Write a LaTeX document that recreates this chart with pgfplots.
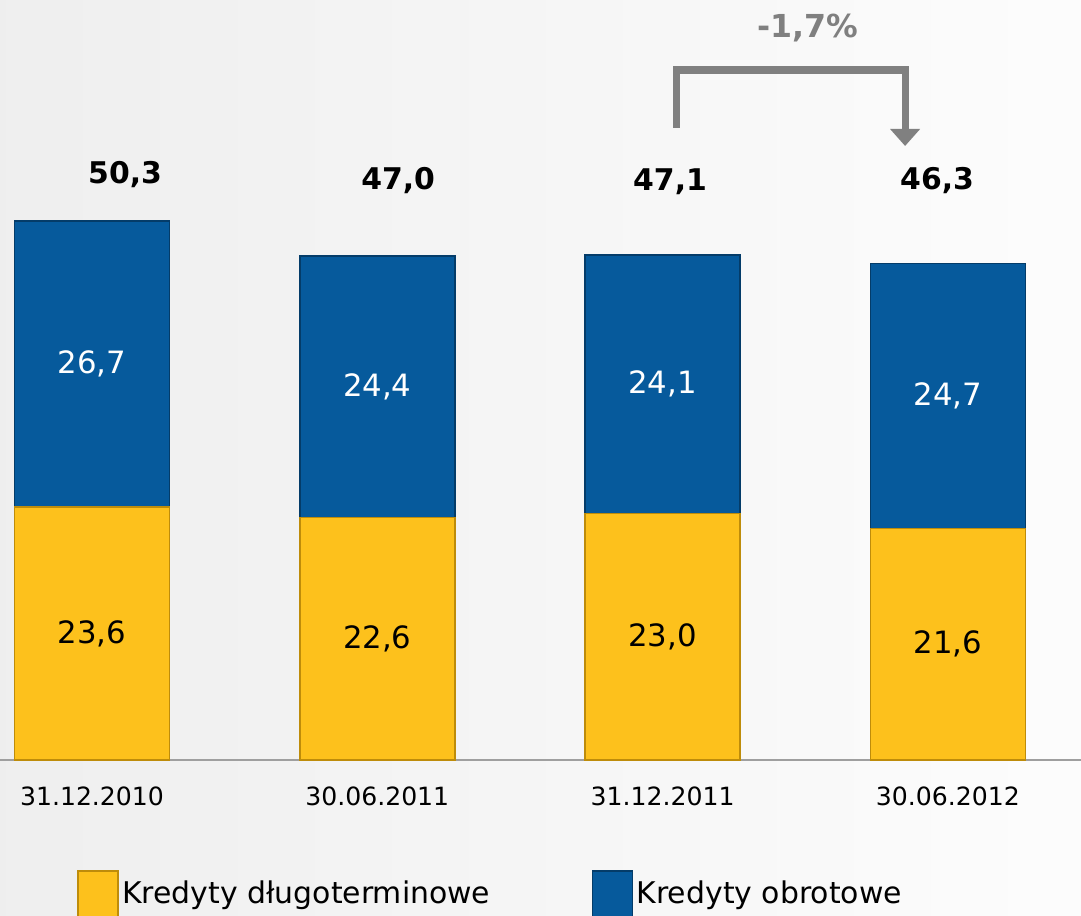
\documentclass[border=0pt]{standalone}
\usepackage{pgfplots}
\pgfplotsset{compat=1.18}
\usetikzlibrary{arrows.meta}
\usepackage{fontspec}
\setmainfont{DejaVu Sans}
\definecolor{yel}{RGB}{253,193,28}
\definecolor{yeledge}{RGB}{190,140,10}
\definecolor{blu}{RGB}{6,90,156}
\definecolor{bluedge}{RGB}{4,60,105}
\definecolor{arr}{RGB}{128,128,128}
\tikzset{
  inval/.style={font=\fontsize{17.5}{20}\selectfont},
  totval/.style={font=\bfseries\fontsize{17}{20}\selectfont},
}

\begin{document}
\begin{tikzpicture}
\path[use as bounding box] (0,0) rectangle (21.62,18.3);
\clip (0,0) rectangle (21.62,18.3);
\shade[left color=gray!13, right color=gray!2] (0,0) rectangle (21.62,18.3);
\begin{axis}[
    at={(0,3.1cm)}, anchor=south west,
    scale only axis, width=21.62cm, height=15.2cm,
    xmin=-0.3225, xmax=3.4665, ymin=0, ymax=70.9,
    enlargelimits=false, clip=false,
    ybar stacked, bar width=3.1cm,
    axis x line=bottom, axis y line=none,
    x axis line style={-, draw=gray!75, line width=0.8pt},
    xtick={0,1,2,3},
    xticklabels={31.12.2010,30.06.2011,31.12.2011,30.06.2012},
    major tick length=0pt,
    xticklabel style={font=\fontsize{14.3}{16}\selectfont, yshift=-0.42cm},
    legend columns=2,
    legend style={at={(axis cs:-0.0526,-10.26)}, anchor=north west,
      draw=none, fill=none, inner sep=0pt,
      font=\fontsize{17}{20}\selectfont,
      /tikz/every even column/.append style={column sep=1.96cm}},
    legend image code/.code={\fill[#1] (0cm,-0.55cm) rectangle (0.8cm,0.45cm);},
  ]
  \addplot[fill=yel, draw=yeledge, line width=0.8pt] coordinates {(0,23.6) (1,22.6) (2,23.0) (3,21.6)};
  \addlegendentry{Kredyty długoterminowe}
  \addplot[fill=blu, draw=bluedge, line width=0.8pt] coordinates {(0,26.7) (1,24.4) (2,24.1) (3,24.7)};
  \addlegendentry{Kredyty obrotowe}

  % anchors for the values inside the bars (drawn after the axis)
  \coordinate (y0) at (axis cs:0,11.8);
  \coordinate (y1) at (axis cs:1,11.3);
  \coordinate (y2) at (axis cs:2,11.5);
  \coordinate (y3) at (axis cs:3,10.8);
  \coordinate (b0) at (axis cs:0,36.95);
  \coordinate (b1) at (axis cs:1,34.8);
  \coordinate (b2) at (axis cs:2,35.05);
  \coordinate (b3) at (axis cs:3,33.95);

  % totals
  \node[totval] at (axis cs:0.116,54.6) {50,3};
  \node[totval] at (axis cs:1.073,54.1) {47,0};
  \node[totval] at (axis cs:2.026,53.9) {47,1};
  \node[totval] at (axis cs:2.962,54.1) {46,3};

  % change marker
  \draw[arr, line width=4pt, line join=miter, -{Triangle[width=0.58cm,length=0.34cm]}]
    (axis cs:2.050,58.96) |- (axis cs:2.850,64.37) -- (axis cs:2.850,57.28);
  \node[arr, font=\bfseries\fontsize{18}{21}\selectfont] at (axis cs:2.510,68.3) {-1,7\%};
\end{axis}
\node[inval] at (y0) {23,6};
\node[inval] at (y1) {22,6};
\node[inval] at (y2) {23,0};
\node[inval] at (y3) {21,6};
\node[inval, white] at (b0) {26,7};
\node[inval, white] at (b1) {24,4};
\node[inval, white] at (b2) {24,1};
\node[inval, white] at (b3) {24,7};
\end{tikzpicture}
\end{document}
